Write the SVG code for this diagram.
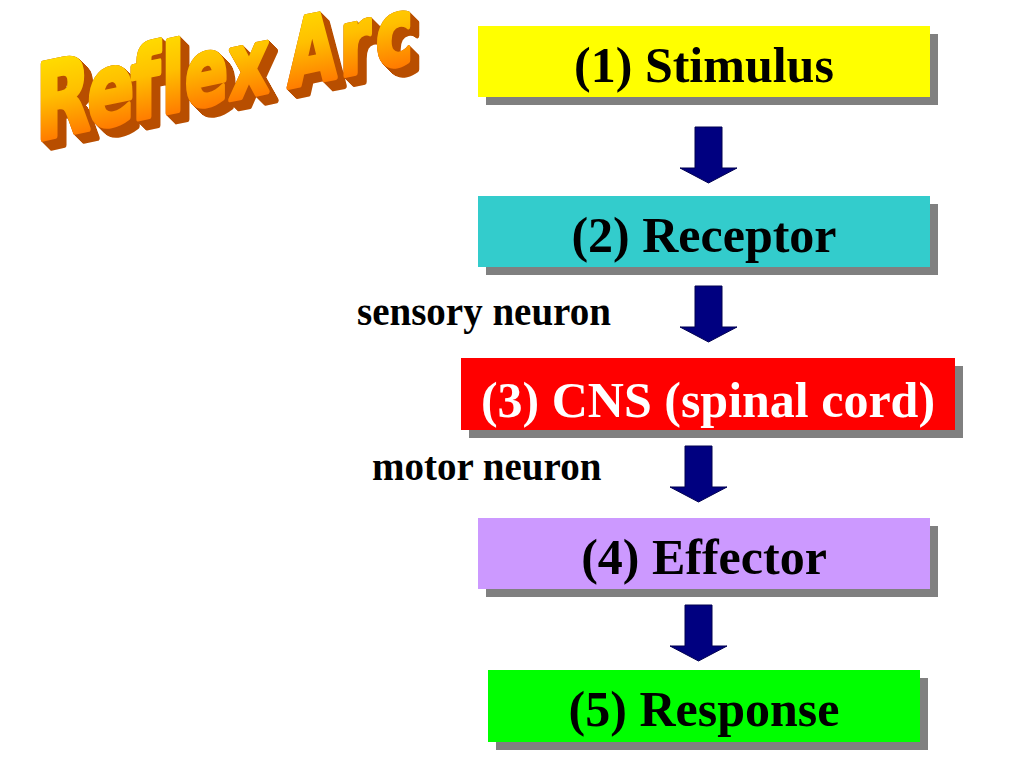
<svg xmlns="http://www.w3.org/2000/svg" xmlns:xlink="http://www.w3.org/1999/xlink" width="1024" height="768" viewBox="0 0 1024 768">
<style>
.shadow{fill:#808080}
.lbl{font-family:"Liberation Serif","Times New Roman",serif;font-weight:bold;font-size:50px;text-anchor:middle;fill:#000}
.side{font-family:"Liberation Serif","Times New Roman",serif;font-weight:bold;font-size:39px;fill:#000}
.arrow{fill:#000080;stroke:#000050;stroke-width:1}
.title{font-family:"DejaVu Sans","Liberation Sans",sans-serif;font-weight:bold;fill:url(#tg);stroke:url(#tg);stroke-width:5;stroke-linejoin:round}
</style>
<defs>
<linearGradient id="tg" x1="0" y1="0" x2="0" y2="1">
<stop offset="0" stop-color="#FFE800"/>
<stop offset="0.45" stop-color="#FFC000"/>
<stop offset="1" stop-color="#FF5A00"/>
</linearGradient>
<filter id="extrude" filterUnits="userSpaceOnUse" x="0" y="0" width="470" height="190" color-interpolation-filters="sRGB">
<feConvolveMatrix in="SourceAlpha" order="10" divisor="1" targetX="9" targetY="9" edgeMode="none" result="ex" kernelMatrix="1 0 0 0 0 0 0 0 0 0  0 1 0 0 0 0 0 0 0 0  0 0 1 0 0 0 0 0 0 0  0 0 0 1 0 0 0 0 0 0  0 0 0 0 1 0 0 0 0 0  0 0 0 0 0 1 0 0 0 0  0 0 0 0 0 0 1 0 0 0  0 0 0 0 0 0 0 1 0 0  0 0 0 0 0 0 0 0 1 0  0 0 0 0 0 0 0 0 0 1"/>
<feFlood flood-color="#B84E00"/>
<feComposite in2="ex" operator="in" result="exc"/>
<feMerge><feMergeNode in="exc"/><feMergeNode in="SourceGraphic"/></feMerge>
</filter>
<path id="arr" class="arrow" d="M0,0 H27 V41 H42 L13.5,56 L-15,41 H0 Z"/>
</defs>
<rect width="1024" height="768" fill="#fff"/>

<g id="title" filter="url(#extrude)">
<text class="title" transform="matrix(0.68,-0.1428,0,1,0,0)" y="148"><tspan x="52.9" font-size="104">R</tspan><tspan x="128.7" font-size="101">e</tspan><tspan x="192.6" font-size="98">f</tspan><tspan x="238.2" font-size="95">l</tspan><tspan x="272.1" font-size="93">e</tspan><tspan x="336.8" font-size="91">x</tspan><tspan x="423.5" font-size="92">A</tspan><tspan x="500" font-size="91">r</tspan><tspan x="553" font-size="91">c</tspan></text>
</g>

<g id="connectors">
<use xlink:href="#arr" x="695" y="127"/>
<use xlink:href="#arr" x="695" y="286"/>
<use xlink:href="#arr" x="685" y="446"/>
<use xlink:href="#arr" x="685" y="605"/>
<text class="side" x="357" y="325">sensory neuron</text>
<text class="side" x="372" y="480">motor neuron</text>
</g>

<g id="n1">
<rect class="shadow" x="486" y="34" width="452" height="71"/>
<rect x="478" y="26" width="452" height="71" fill="#FFFF00"/>
<text class="lbl" x="704" y="82">(1) Stimulus</text>
</g>
<g id="n2">
<rect class="shadow" x="486" y="204" width="452" height="71"/>
<rect x="478" y="196" width="452" height="71" fill="#33CCCC"/>
<text class="lbl" x="704" y="252">(2) Receptor</text>
</g>
<g id="n3">
<rect class="shadow" x="469" y="366" width="494" height="72"/>
<rect x="461" y="358" width="494" height="72" fill="#FF0000"/>
<text class="lbl" x="708" y="417" style="fill:#fff">(3) CNS (spinal cord)</text>
</g>
<g id="n4">
<rect class="shadow" x="486" y="526" width="452" height="71"/>
<rect x="478" y="518" width="452" height="71" fill="#CC99FF"/>
<text class="lbl" x="704" y="574">(4) Effector</text>
</g>
<g id="n5">
<rect class="shadow" x="496" y="678" width="432" height="72"/>
<rect x="488" y="670" width="432" height="72" fill="#00FF00"/>
<text class="lbl" x="704" y="726">(5) Response</text>
</g>
</svg>
